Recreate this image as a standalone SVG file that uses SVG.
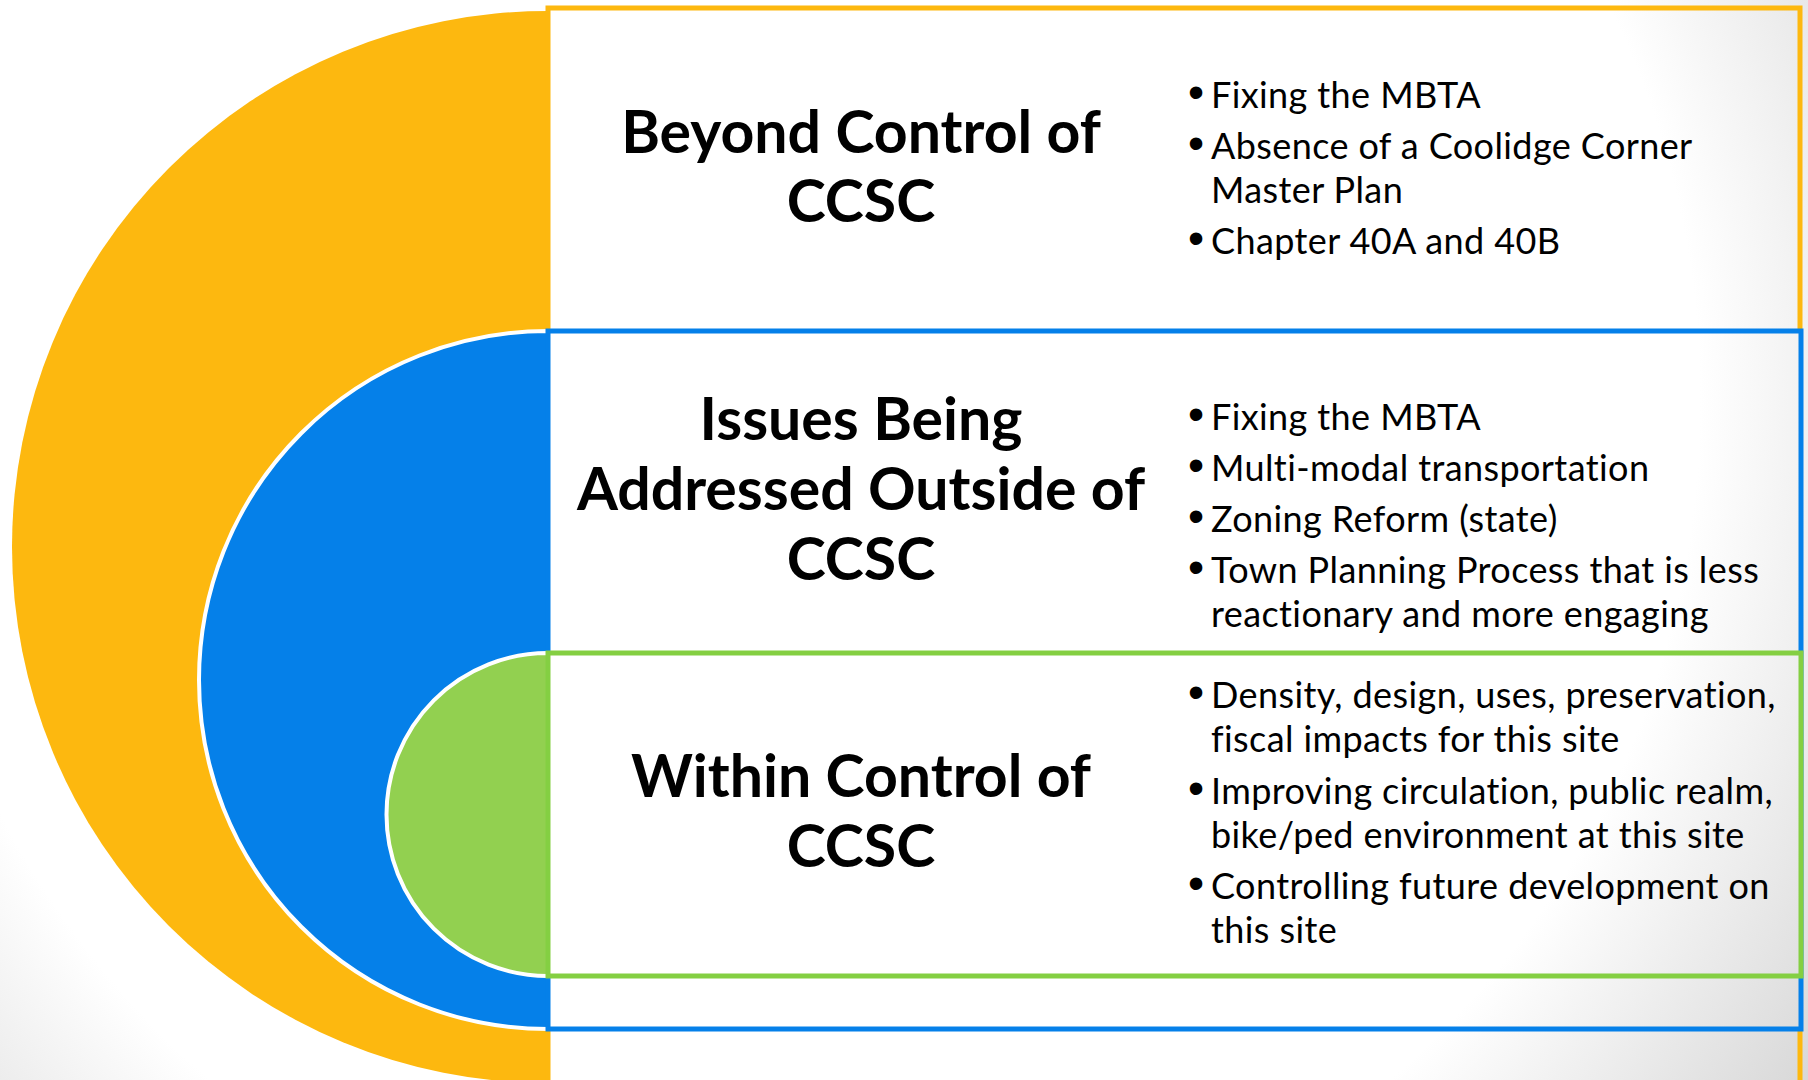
<svg xmlns="http://www.w3.org/2000/svg" width="1808" height="1080" viewBox="0 0 1808 1080">
  <defs>
    <radialGradient id="bg" gradientUnits="userSpaceOnUse" cx="800" cy="400" r="1250">
      <stop offset="0" stop-color="#ffffff"/>
      <stop offset="0.72" stop-color="#ffffff"/>
      <stop offset="1" stop-color="#d4d4d4"/>
    </radialGradient>
  </defs>
  <style>
    .box { fill: url(#bg); stroke-width: 5; }
    .head { font-family: Lato, "Liberation Sans", sans-serif; font-weight: 700; font-size: 59px; fill: #000; text-anchor: middle; }
    .body { font-family: Lato, "Liberation Sans", sans-serif; font-size: 36px; letter-spacing: 0.4px; fill: #000; }
    .dot { font-family: "Liberation Sans", sans-serif; font-size: 46px; fill: #000; text-anchor: middle; }
    .ring { stroke: #ffffff; stroke-width: 4; }
  </style>
  <rect x="0" y="0" width="1808" height="1080" fill="url(#bg)"/>

  <g id="node-beyond">
    <path d="M548,11 A536,536 0 0 0 548,1083 Z" fill="#FDB80F"/>
    <rect class="box" x="548" y="8" width="1252" height="1090" stroke="#FDB80F"/>
    <text class="head"><tspan x="861" y="153">Beyond Control of</tspan><tspan x="861" y="222">CCSC</tspan></text>
    <text class="dot" x="1196" y="108">•</text>
    <text class="dot" x="1196" y="159">•</text>
    <text class="dot" x="1196" y="254">•</text>
    <text class="body">
      <tspan x="1211" y="108">Fixing the MBTA</tspan>
      <tspan x="1211" y="159">Absence of a Coolidge Corner</tspan>
      <tspan x="1211" y="203">Master Plan</tspan>
      <tspan x="1211" y="254">Chapter 40A and 40B</tspan>
    </text>
  </g>

  <g id="node-issues">
    <path class="ring" d="M548,331 A349,349 0 0 0 548,1029 Z" fill="#0580E9"/>
    <rect class="box" x="548" y="331" width="1253" height="698" stroke="#0580E9"/>
    <text class="head"><tspan x="861" y="440">Issues Being</tspan><tspan x="861" y="510">Addressed Outside of</tspan><tspan x="861" y="580">CCSC</tspan></text>
    <text class="dot" x="1196" y="430">•</text>
    <text class="dot" x="1196" y="481">•</text>
    <text class="dot" x="1196" y="532">•</text>
    <text class="dot" x="1196" y="583">•</text>
    <text class="body">
      <tspan x="1211" y="430">Fixing the MBTA</tspan>
      <tspan x="1211" y="481">Multi-modal transportation</tspan>
      <tspan x="1211" y="532">Zoning Reform (state)</tspan>
      <tspan x="1211" y="583">Town Planning Process that is less</tspan>
      <tspan x="1211" y="627">reactionary and more engaging</tspan>
    </text>
  </g>

  <g id="node-within">
    <path class="ring" d="M548,653 A161.5,161.5 0 0 0 548,976 Z" fill="#92D050"/>
    <rect class="box" x="548" y="653" width="1253" height="323" stroke="#84CF42"/>
    <text class="head"><tspan x="861" y="797">Within Control of</tspan><tspan x="861" y="867">CCSC</tspan></text>
    <text class="dot" x="1196" y="708">•</text>
    <text class="dot" x="1196" y="804">•</text>
    <text class="dot" x="1196" y="899">•</text>
    <text class="body">
      <tspan x="1211" y="708">Density, design, uses, preservation,</tspan>
      <tspan x="1211" y="752">fiscal impacts for this site</tspan>
      <tspan x="1211" y="804">Improving circulation, public realm,</tspan>
      <tspan x="1211" y="848">bike/ped environment at this site</tspan>
      <tspan x="1211" y="899">Controlling future development on</tspan>
      <tspan x="1211" y="943">this site</tspan>
    </text>
  </g>

  <g id="connectors"/>
</svg>
